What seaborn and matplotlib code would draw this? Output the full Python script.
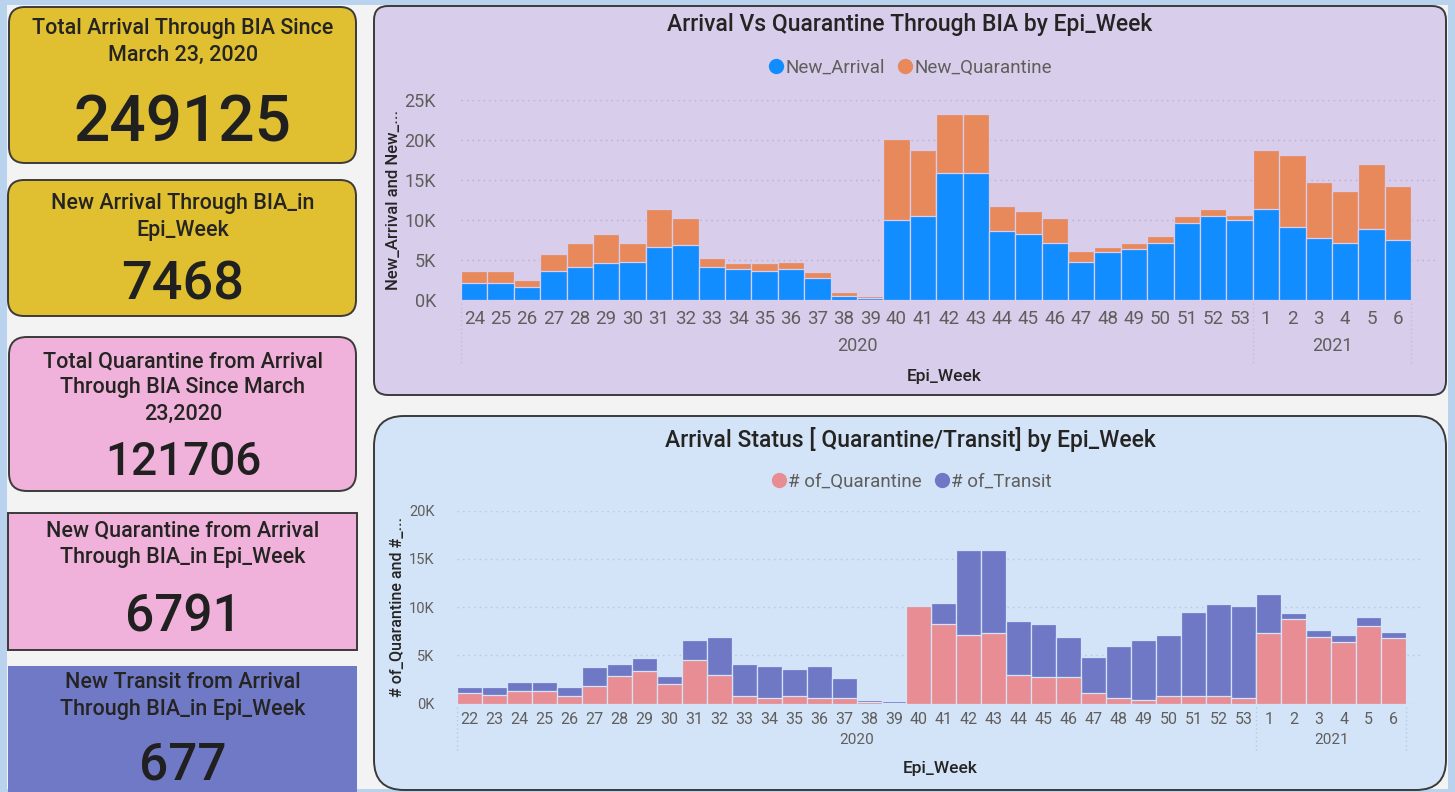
import matplotlib
matplotlib.use("Agg")
import matplotlib.pyplot as plt
import seaborn as sns
import pandas as pd
from matplotlib.patches import FancyBboxPatch, Rectangle
from matplotlib.lines import Line2D

# ---------------- data ----------------
top_weeks = [str(w) for w in range(24, 54)] + [str(w) for w in range(1, 7)]
new_arrival = [2100, 2100, 1630, 3680, 4140, 4600, 4810, 6650, 6900, 4140,
               3890, 3680, 3890, 2760, 500, 250, 10000, 10450, 15900, 15900,
               8650, 8190, 7070, 4810, 5940, 6400, 7070, 9570, 10450, 10000,
               11370, 9110, 7730, 7070, 8860, 7468]
new_quarantine = [1540, 1500, 870, 2050, 2930, 3590, 2260, 4720, 3340, 1090,
                  710, 920, 920, 710, 460, 250, 10150, 8350, 7400, 7400,
                  3150, 2910, 3170, 1340, 660, 670, 910, 880, 920, 660,
                  7440, 9030, 6990, 6520, 8110, 6791]
top_years = ["2020"] * 30 + ["2021"] * 6

bot_weeks = [str(w) for w in range(22, 54)] + [str(w) for w in range(1, 7)]
n_quarantine = [1140, 930, 1310, 1310, 760, 1870, 2830, 3390, 2070, 4490,
                3000, 760, 590, 760, 550, 550, 200, 50, 10090, 8220,
                7120, 7290, 3000, 2800, 2800, 1140, 550, 380, 760, 760,
                760, 550, 7290, 8810, 6940, 6390, 8050, 6791]
n_transit = [550, 760, 970, 970, 930, 1900, 1320, 1310, 760, 2070,
             3940, 3390, 3350, 2830, 3390, 2080, 210, 230, 50, 2250,
             8770, 8600, 5600, 5420, 4140, 3730, 5460, 6180, 6360, 8770,
             9530, 9540, 4110, 550, 730, 730, 930, 677]
bot_years = ["2020"] * 32 + ["2021"] * 6

kpi_titles = ["Total Arrival Through BIA Since\nMarch 23, 2020",
              "New Arrival Through BIA_in\nEpi_Week",
              "Total Quarantine from Arrival\nThrough BIA Since March\n23,2020",
              "New Quarantine from Arrival\nThrough BIA_in Epi_Week",
              "New Transit from Arrival\nThrough BIA_in Epi_Week"]
kpi_values = ["249125", "7468", "121706", "6791", "677"]

top_yticks = [0, 5000, 10000, 15000, 20000, 25000]
bot_yticks = [0, 5000, 10000, 15000, 20000]

# ---------------- style ----------------
sns.set_theme(style="white")
plt.rcParams['font.family'] = ['Roboto', 'DejaVu Sans']

W, H = 1455, 792
fig = plt.figure(figsize=(W / 100, H / 100), dpi=100)
fig.patch.set_facecolor("#b9d3ef")

bg = fig.add_axes([0, 0, 1, 1], zorder=0)
bg.set_xlim(0, W)
bg.set_ylim(H, 0)
bg.axis("off")

bg.add_patch(Rectangle((7, 5), 1441, 784, facecolor="#f3f3f3", edgecolor="none"))

def rbox(x0, y0, x1, y1, fc, ec="#3a3a3a", r=14, lw=1.4):
    bg.add_patch(FancyBboxPatch((x0, y0), x1 - x0, y1 - y0,
                                boxstyle=f"round,pad=0,rounding_size={r}",
                                facecolor=fc, edgecolor=ec, linewidth=lw))

# KPI cards
YEL, PINK, PURP = "#e0c030", "#f0b2da", "#7079c6"
rbox(9, 7, 356, 163, YEL, r=16)
rbox(8, 180, 356, 316, YEL, r=16)
rbox(9, 337, 356, 491, PINK, r=18)
bg.add_patch(Rectangle((8, 513), 349, 137, facecolor=PINK, edgecolor="#3a3a3a", linewidth=1.4))
bg.add_patch(Rectangle((8, 666), 349, 130, facecolor=PURP, edgecolor="none"))

title_y = [42, 217, 388, 544, 696]
num_y = [123, 285, 462, 617, 765]
num_size = [46, 39, 33, 37, 37]
for t, ty, v, ny, ns in zip(kpi_titles, title_y, kpi_values, num_y, num_size):
    bg.text(183, ty, t, ha="center", va="center", fontsize=15.5,
            color="#252423", linespacing=1.32, fontweight="medium")
    bg.text(183, ny, v, ha="center", va="center", fontsize=ns, color="#202020",
            fontweight="medium")

# chart panels
rbox(374, 6, 1446, 395, "#d8cdeb", r=14)
rbox(374, 416, 1446, 790, "#d3e4f8", r=30)

TXT = "#252423"
TICK = "#605e5c"
bg.text(910, 25, "Arrival Vs Quarantine Through BIA by Epi_Week", ha="center",
        va="center", fontsize=16.5, color=TXT, fontweight="medium")
bg.text(910, 440, "Arrival Status [ Quarantine/Transit] by Epi_Week", ha="center",
        va="center", fontsize=16.5, color=TXT, fontweight="medium")

def fx(px):
    return px / W

def fy(py):
    return 1 - py / H

# ---------------- top chart ----------------
BLUE, ORANGE = "#118dff", "#e8895c"
ax1 = fig.add_axes([fx(461), fy(300), fx(1435 - 461), (300 - 100) / H], zorder=2)
ax1.set_facecolor("none")
df1 = pd.DataFrame({"week": top_weeks, "arr": new_arrival, "qua": new_quarantine})
df1["total"] = df1["arr"] + df1["qua"]
sns.barplot(data=df1, x="week", y="total", order=top_weeks, color=ORANGE,
            saturation=1, width=1.0, edgecolor="#d8cdeb", linewidth=0.9, ax=ax1)
sns.barplot(data=df1, x="week", y="arr", order=top_weeks, color=BLUE,
            saturation=1, width=1.0, edgecolor="#d8cdeb", linewidth=0.9, ax=ax1)
ax1.set_xlim(-0.5, len(top_weeks) - 0.5 + 0.9)
ax1.set_ylim(0, 25000)
ax1.set_yticks(top_yticks)
ax1.set_yticklabels([f"{int(v/1000)}K" for v in top_yticks])
ax1.grid(axis="y", color="#b9b0cc", linestyle=(0, (1, 3)), linewidth=1)
ax1.set_axisbelow(True)
ax1.tick_params(axis="both", length=0, labelcolor=TICK)
ax1.tick_params(axis="x", labelsize=13.5, pad=7)
ax1.tick_params(axis="y", labelsize=13, pad=18)
ax1.set_xlabel("")
ax1.set_ylabel("")
for s in ax1.spines.values():
    s.set_visible(False)

tr1 = ax1.get_xaxis_transform()
for xs in [-0.5, 29.5, 35.5]:
    ax1.plot([xs, xs], [-0.015, -0.315], transform=tr1, clip_on=False,
             color="#c4bcd6", linestyle=(0, (1, 2)), linewidth=1)
for yr in ["2020", "2021"]:
    idx = [i for i, y in enumerate(top_years) if y == yr]
    ax1.text((idx[0] + idx[-1]) / 2, -0.23, yr, transform=tr1, ha="center",
             va="center", fontsize=13, color=TICK)

bg.text(944, 377, "Epi_Week", ha="center", va="center", fontsize=12.5,
        color=TXT, fontweight="medium")
bg.text(393, 200, "New_Arrival and New_...", ha="center", va="center",
        rotation=90, fontsize=12, color=TXT, fontweight="medium")

h1 = [Line2D([], [], marker="o", linestyle="", color=BLUE, markersize=10),
      Line2D([], [], marker="o", linestyle="", color=ORANGE, markersize=10)]
fig.legend(h1, ["New_Arrival", "New_Quarantine"], loc="center",
           bbox_to_anchor=(fx(910), fy(68)), ncol=2, frameon=False,
           handletextpad=0.05, columnspacing=0.6, fontsize=13.5,
           labelcolor=TICK, handlelength=0.9)

# ---------------- bottom chart ----------------
PINKB, PURB = "#e88d94", "#6f78c5"
ax2 = fig.add_axes([fx(456.7), fy(703.7), fx(1420 - 456.7), (703.7 - 510.7) / H], zorder=2)
ax2.set_facecolor("none")
df2 = pd.DataFrame({"week": bot_weeks, "q": n_quarantine, "t": n_transit})
df2["total"] = df2["q"] + df2["t"]
sns.barplot(data=df2, x="week", y="total", order=bot_weeks, color=PURB,
            saturation=1, width=1.0, edgecolor="#d3e4f8", linewidth=0.9, ax=ax2)
sns.barplot(data=df2, x="week", y="q", order=bot_weeks, color=PINKB,
            saturation=1, width=1.0, edgecolor="#d3e4f8", linewidth=0.9, ax=ax2)
ax2.set_xlim(-0.5, len(bot_weeks) - 0.5 + 0.55)
ax2.set_ylim(0, 20000)
ax2.set_yticks(bot_yticks)
ax2.set_yticklabels([f"{int(v/1000)}K" for v in bot_yticks])
ax2.grid(axis="y", color="#b4c6de", linestyle=(0, (1, 3)), linewidth=1)
ax2.set_axisbelow(True)
ax2.tick_params(axis="both", length=0, labelcolor=TICK)
ax2.tick_params(axis="x", labelsize=11.5, pad=6)
ax2.tick_params(axis="y", labelsize=10.5, pad=16)
ax2.set_xlabel("")
ax2.set_ylabel("")
for s in ax2.spines.values():
    s.set_visible(False)

tr2 = ax2.get_xaxis_transform()
for xs in [-0.5, 31.5, 37.5]:
    ax2.plot([xs, xs], [-0.017, -0.255], transform=tr2, clip_on=False,
             color="#b8c8de", linestyle=(0, (1, 2)), linewidth=1)
for yr in ["2020", "2021"]:
    idx = [i for i, y in enumerate(bot_years) if y == yr]
    ax2.text((idx[0] + idx[-1]) / 2, -0.188, yr, transform=tr2, ha="center",
             va="center", fontsize=11, color=TICK)

bg.text(940, 768, "Epi_Week", ha="center", va="center", fontsize=12.5,
        color=TXT, fontweight="medium")
bg.text(398, 607, "# of_Quarantine and #_...", ha="center", va="center",
        rotation=90, fontsize=11.5, color=TXT, fontweight="medium")

h2 = [Line2D([], [], marker="o", linestyle="", color=PINKB, markersize=10),
      Line2D([], [], marker="o", linestyle="", color=PURB, markersize=10)]
fig.legend(h2, ["# of_Quarantine", "# of_Transit"], loc="center",
           bbox_to_anchor=(fx(911), fy(482)), ncol=2, frameon=False,
           handletextpad=0.05, columnspacing=0.6, fontsize=13.5,
           labelcolor=TICK, handlelength=0.9)

fig.savefig("out.png", dpi=100, facecolor=fig.get_facecolor())
